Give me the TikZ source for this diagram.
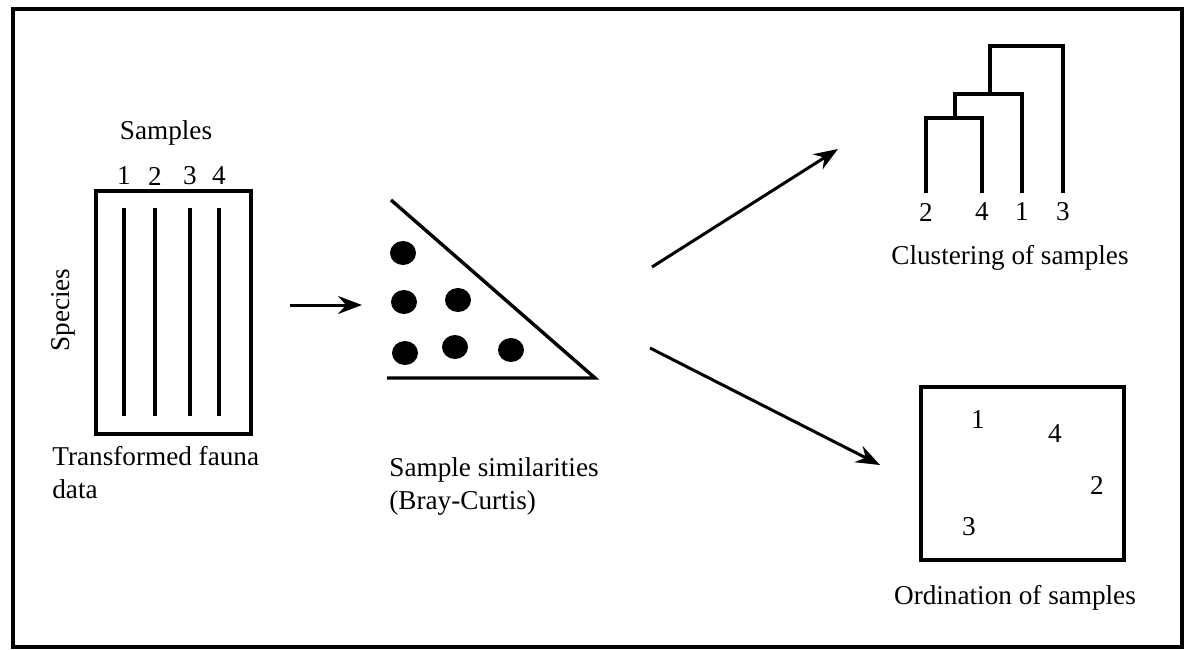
\documentclass[tikz,border=0pt]{standalone}
\usepackage{fontspec}
\setmainfont{Liberation Serif}
\usetikzlibrary{arrows.meta}

\tikzset{
  lbl/.style={inner sep=0pt, font=\fontsize{13.6}{16.5}\selectfont},
  para/.style={lbl, align=left, anchor=north west},
  thick line/.style={line width=1.7pt},
  pointer/.style={line width=1.5pt, -{Stealth[length=12pt,width=9pt,inset=4pt]}},
}

\begin{document}
\begin{tikzpicture}[x=0.5pt,y=-0.5pt]

      % Define the frame
      \useasboundingbox (0,0) rectangle (1184,649);
      \draw[thick line] (13,9) rectangle (1182,647);

      % Define the data matrix
      \draw[thick line] (96,191) rectangle (251,434);
      \node[lbl] (samples) at (166,133) {Samples};
      \foreach \i/\x in {1/124,2/155,3/190,4/219} {
        \node[lbl] (s\i) at (\x,176) {\i};
        \draw[thick line] (\x,208) -- (\x,416);
      }
      \node[lbl,rotate=90] (species) at (63,310) {Species};
      \node[para] (fauna) at (52,446) {Transformed fauna\\data};

      % Define the similarity triangle
      \draw[thick line] (391,200) -- (595,378) -- (387,378);
      \foreach \x/\y in {403/253, 404/302, 458/300, 405/353, 455/347, 511/350}
        \fill (\x,\y) ellipse [x radius=13, y radius=12];
      \node[para] (simil) at (389,457) {Sample similarities\\(Bray-Curtis)};

      % Define the dendrogram
      \draw[thick line] (926,193) -- (926,118) -- (982,118) -- (982,193);
      \draw[thick line] (955,118) -- (955,94) -- (1022,94) -- (1022,193);
      \draw[thick line] (990,94) -- (990,46) -- (1063,46) -- (1063,193);
      \node[lbl] (d2) at (926,212) {2};
      \node[lbl] (d4) at (982,212) {4};
      \node[lbl] (d1) at (1022,212) {1};
      \node[lbl] (d3) at (1063,212) {3};
      \node[lbl] (cluster) at (1010,258) {Clustering of samples};

      % Define the ordination plot
      \draw[thick line] (921,387) rectangle (1124,560);
      \node[lbl] (o1) at (978,420) {1};
      \node[lbl] (o4) at (1055,434) {4};
      \node[lbl] (o2) at (1097,485) {2};
      \node[lbl] (o3) at (969,527) {3};
      \node[lbl] (ordin) at (1015,598) {Ordination of samples};

      % Define the arrow ends
      \coordinate (a) at (290,305);
      \coordinate (b) at (362,305);
      \coordinate (c) at (652,267);
      \coordinate (d) at (838,149);
      \coordinate (e) at (650,348);
      \coordinate (f) at (880,465);

      % Draw the edges
      \draw[pointer] (a) -- (b);
      \draw[pointer] (c) -- (d);
      \draw[pointer] (e) -- (f);
  \end{tikzpicture}
\end{document}
